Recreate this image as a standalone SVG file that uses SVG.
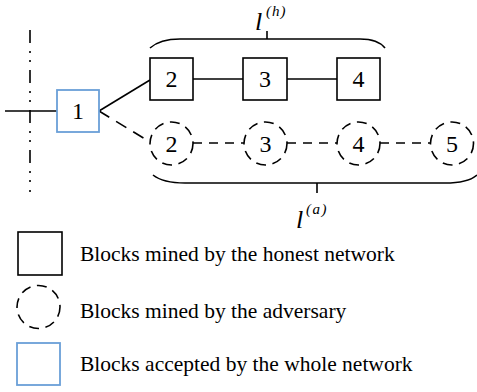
<svg xmlns="http://www.w3.org/2000/svg" width="477" height="392" viewBox="0 0 477 392">
<style>
.box{fill:#fff;stroke:#000;stroke-width:1.6}
.acc{fill:#fff;stroke:#6a9fd8;stroke-width:1.8}
.adv{fill:#fff;stroke:#000;stroke-width:1.6;stroke-dasharray:10 6.5}
.num{font-family:"Liberation Serif","Times New Roman",serif;font-size:24px;text-anchor:middle}
.lbl{font-family:"Liberation Serif","Times New Roman",serif;font-size:21.5px}
.it{font-family:"Liberation Serif","Times New Roman",serif;font-style:italic}
.ln{stroke:#000;stroke-width:1.6;fill:none}
.dl{stroke:#000;stroke-width:1.6;fill:none;stroke-dasharray:9 7}
</style>
<rect width="477" height="392" fill="#fff"/>
<g id="connectors">
<line class="ln" x1="30" y1="30" x2="30" y2="192" style="stroke-dasharray:13 8 2 7 2 8"/>
<line class="ln" x1="5" y1="111" x2="57" y2="111"/>
<line class="ln" x1="99" y1="111" x2="150" y2="80"/>
<line class="ln" style="stroke-dasharray:12 8" x1="99" y1="111" x2="150" y2="142"/>
<line class="ln" x1="193" y1="79" x2="243" y2="79"/>
<line class="ln" x1="287" y1="79" x2="337" y2="79"/>
<line class="dl" x1="193" y1="143" x2="244" y2="143"/>
<line class="dl" x1="287" y1="143" x2="337" y2="143"/>
<line class="dl" x1="380" y1="143" x2="431" y2="143"/>
</g>
<g id="brace-h">
<path class="ln" d="M150,48 Q160,39 180,39 L360,39 Q378,39 385,48"/>
<line class="ln" x1="267" y1="31" x2="267" y2="39"/>
<text class="it" x="255" y="30" font-size="26">l</text>
<text class="it" x="266" y="16" font-size="15" letter-spacing="1">(h)</text>
</g>
<g id="brace-a">
<path class="ln" d="M153,175 Q163,183 185,183 L445,183 Q468,183 477,175"/>
<line class="ln" x1="317" y1="183" x2="317" y2="193"/>
<text class="it" x="296" y="228" font-size="26">l</text>
<text class="it" x="306" y="214" font-size="15" letter-spacing="1.5">(a)</text>
</g>
<g id="n1"><rect class="acc" x="57" y="90" width="42" height="42"/><text class="num" x="78" y="119">1</text></g>
<g id="h2"><rect class="box" x="150" y="58" width="43" height="42"/><text class="num" x="171.5" y="87">2</text></g>
<g id="h3"><rect class="box" x="243" y="58" width="44" height="42"/><text class="num" x="265" y="87">3</text></g>
<g id="h4"><rect class="box" x="337" y="58" width="43" height="42"/><text class="num" x="358.5" y="87">4</text></g>
<g id="a2"><circle class="adv" cx="171.5" cy="143.5" r="21.5"/><text class="num" x="171.5" y="152">2</text></g>
<g id="a3"><circle class="adv" cx="265.5" cy="143.5" r="21.5"/><text class="num" x="265.5" y="152">3</text></g>
<g id="a4"><circle class="adv" cx="358.5" cy="143.5" r="21.5"/><text class="num" x="358.5" y="152">4</text></g>
<g id="a5"><circle class="adv" cx="452" cy="143.5" r="21.5"/><text class="num" x="452" y="152">5</text></g>
<g id="legend">
<rect class="box" x="18" y="232" width="44" height="43"/>
<text class="lbl" x="80" y="261">Blocks mined by the honest network</text>
<circle class="adv" cx="38.5" cy="307" r="21.5"/>
<text class="lbl" x="80" y="318">Blocks mined by the adversary</text>
<rect class="acc" x="17" y="343" width="43" height="42"/>
<text class="lbl" x="80" y="371">Blocks accepted by the whole network</text>
</g>
</svg>
